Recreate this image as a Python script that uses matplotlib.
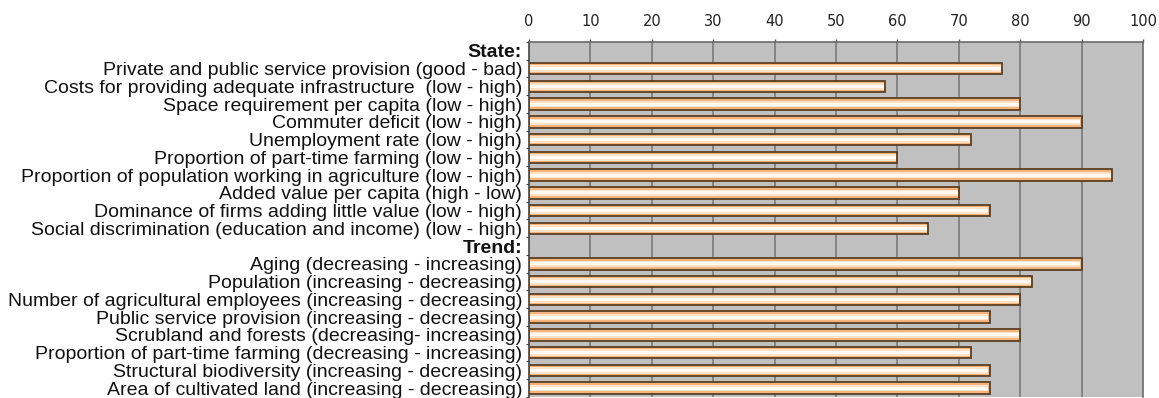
import matplotlib
matplotlib.use("Agg")
import matplotlib.pyplot as plt
import numpy as np

state_labels = [
    "Private and public service provision (good - bad)",
    "Costs for providing adequate infrastructure  (low - high)",
    "Space requirement per capita (low - high)",
    "Commuter deficit (low - high)",
    "Unemployment rate (low - high)",
    "Proportion of part-time farming (low - high)",
    "Proportion of population working in agriculture (low - high)",
    "Added value per capita (high - low)",
    "Dominance of firms adding little value (low - high)",
    "Social discrimination (education and income) (low - high)",
]
state_values = [77, 58, 80, 90, 72, 60, 95, 70, 75, 65]

trend_labels = [
    "Aging (decreasing - increasing)",
    "Population (increasing - decreasing)",
    "Number of agricultural employees (increasing - decreasing)",
    "Public service provision (increasing - decreasing)",
    "Scrubland and forests (decreasing- increasing)",
    "Proportion of part-time farming (decreasing - increasing)",
    "Structural biodiversity (increasing - decreasing)",
    "Area of cultivated land (increasing - decreasing)",
]
trend_values = [90, 82, 80, 75, 80, 72, 75, 75]

x_ticks = [0, 10, 20, 30, 40, 50, 60, 70, 80, 90, 100]

labels = ["State:"] + state_labels + ["Trend:"] + trend_labels
values = [np.nan] + state_values + [np.nan] + trend_values
ypos = np.arange(len(labels))
vals = np.array(values, dtype=float)
mask = ~np.isnan(vals)

fig = plt.figure(figsize=(11.59, 3.98), dpi=100)
ax = fig.add_axes([529/1159, 1 - 397/398, (1143-529)/1159, (397-42)/398])
ax.set_facecolor("#c0c0c0")

ax.set_xlim(0, 100)
ax.set_ylim(len(labels) - 0.5, -0.5)

for xt in x_ticks[1:-1]:
    ax.axvline(xt, color="#7a7a7a", lw=1.2, zorder=1)

ax.barh(ypos[mask], vals[mask], height=0.64, left=0, color="#f4b47c",
        edgecolor="#5b3f22", linewidth=1.3, zorder=3)
ax.barh(ypos[mask], vals[mask] - 0.4, height=0.36, left=0.2, color="#fde2c8",
        edgecolor="none", zorder=4)
ax.barh(ypos[mask], vals[mask] - 0.4, height=0.16, left=0.2, color="#fffaf4",
        edgecolor="none", zorder=5)

ax.xaxis.tick_top()
ax.set_xticks(x_ticks)
ax.set_xticklabels([str(t) for t in x_ticks], fontsize=10.5, family="DejaVu Sans",
                   color="#222222")
ax.tick_params(axis="x", length=2.2, width=1, color="#555555", pad=7)

ax.set_yticks(ypos)
ax.set_yticklabels(labels, fontsize=14, family="Liberation Sans", color="#111111")
for t in ax.get_yticklabels():
    if t.get_text().endswith(":"):
        t.set_fontweight("bold")
ax.tick_params(axis="y", length=0, pad=5)
ax.set_yticks(np.arange(len(labels) + 1) - 0.5, minor=True)
ax.tick_params(axis="y", which="minor", length=2.5, width=0.8, color="#444444")

for s in ["top", "right"]:
    ax.spines[s].set_color("#6a6a6a")
    ax.spines[s].set_linewidth(1.2)
ax.spines["left"].set_color("#444444")
ax.spines["left"].set_linewidth(1.2)
ax.spines["bottom"].set_visible(False)

fig.savefig("out.png", dpi=100)
